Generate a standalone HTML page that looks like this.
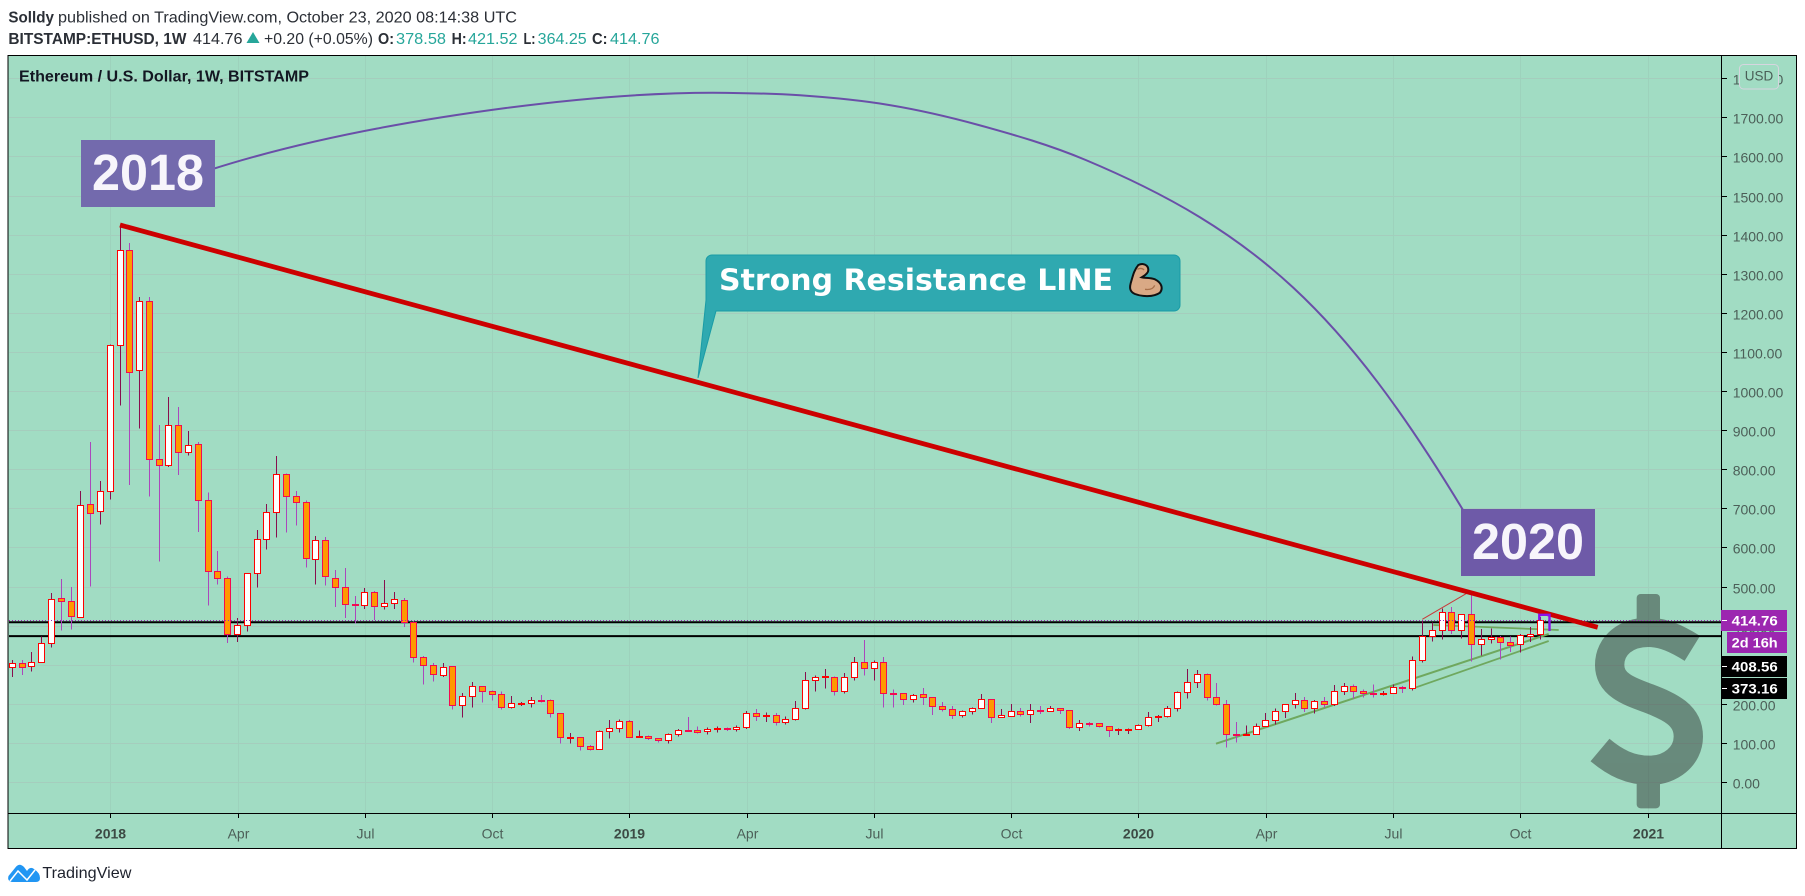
<!DOCTYPE html>
<html lang="en">
<head>
<meta charset="utf-8">
<title>ETHUSD 1W chart</title>
<style>
html,body{margin:0;padding:0;background:#fff;width:1805px;height:896px;overflow:hidden}
svg{display:block;font-family:"Liberation Sans",sans-serif}
</style>
</head>
<body>
<svg id="chart" xmlns="http://www.w3.org/2000/svg" width="1805" height="896" viewBox="0 0 1805 896">
  <g font-size="16" fill="#2b2f36">
    <text x="8.4" y="22.7" font-weight="bold" textLength="45.5" lengthAdjust="spacingAndGlyphs">Solldy</text>
    <text x="58" y="22.7" textLength="459" lengthAdjust="spacingAndGlyphs">published on TradingView.com, October 23, 2020 08:14:38 UTC</text>
    <text x="8.4" y="44" font-weight="bold" textLength="178" lengthAdjust="spacingAndGlyphs">BITSTAMP:ETHUSD, 1W</text>
    <text x="193" y="44" textLength="49.5" lengthAdjust="spacingAndGlyphs">414.76</text>
    <polygon points="253,32 259.5,43 246.5,43" fill="#26a69a"/>
    <text x="264" y="44" textLength="109" lengthAdjust="spacingAndGlyphs">+0.20 (+0.05%)</text>
    <text x="378" y="44" font-weight="bold" textLength="16" lengthAdjust="spacingAndGlyphs">O:</text>
    <text x="396" y="44" fill="#26a69a" textLength="50" lengthAdjust="spacingAndGlyphs">378.58</text>
    <text x="451.6" y="44" font-weight="bold" textLength="15" lengthAdjust="spacingAndGlyphs">H:</text>
    <text x="468" y="44" fill="#26a69a" textLength="49.5" lengthAdjust="spacingAndGlyphs">421.52</text>
    <text x="523.5" y="44" font-weight="bold" textLength="12" lengthAdjust="spacingAndGlyphs">L:</text>
    <text x="537.7" y="44" fill="#26a69a" textLength="49" lengthAdjust="spacingAndGlyphs">364.25</text>
    <text x="592" y="44" font-weight="bold" textLength="15.5" lengthAdjust="spacingAndGlyphs">C:</text>
    <text x="610" y="44" fill="#26a69a" textLength="49.5" lengthAdjust="spacingAndGlyphs">414.76</text>
  </g>

  <rect x="8" y="55" width="1789" height="794" fill="#a1dcc3"/>
  <g id="grid"></g>

  <g opacity="0.43" transform="translate(1500 560) scale(.33333)">
    <rect x="410" y="102" width="70" height="90" rx="12" fill="#1e1e1e"/>
    <rect x="410" y="655" width="70" height="90" rx="12" fill="#1e1e1e"/>
    <path d="M577 265 C530 236 490 217 445 217 C380 217 329 255 329 315 C329 375 390 395 445 415 C510 440 565 465 565 530 C565 590 510 631 450 631 C390 631 345 608 300 570" fill="none" stroke="#1e1e1e" stroke-width="88" stroke-linejoin="round"/>
  </g>

  <g id="levels"></g>

  <g fill="none" stroke="#6fa85e">
    <line x1="1216" y1="743.7" x2="1548.7" y2="634" stroke-width="2"/>
    <line x1="1413.3" y1="688.3" x2="1548.7" y2="641" stroke-width="1.8"/>
    <line x1="1433.3" y1="625" x2="1558.7" y2="630" stroke-width="1.8"/>
  </g>

  <g id="candles" shape-rendering="crispEdges"></g>
  <g id="lastline"></g>

  <line x1="1422.3" y1="619.3" x2="1466.7" y2="593.3" stroke="#c83a3a" stroke-width="1"/>
  <line x1="120" y1="225" x2="1597.7" y2="627.3" stroke="#cc0000" stroke-width="4.8"/>
  <path d="M1539.3 620 V614.8 H1549.5 V631" fill="none" stroke="#8a10e8" stroke-width="2.4"/>

  <path d="M209.6 170 C300 141 400 122 506 108 C575 99 645 92.7 712.8 92.7 C736.3 92.9 770.6 93.25 800 95.3 C829.4 97.35 859.2 100.05 889 105 C918.8 109.95 948.8 116.83 978.6 125 C1014 134.7 1050 145 1085.7 160 C1255.7 231.4 1343 312 1463 510" fill="none" stroke="#6a4fa8" stroke-width="2"/>

  <rect x="81" y="140" width="134" height="67" fill="#736aad"/>
  <text x="148" y="190" font-size="51" font-weight="bold" text-anchor="middle" fill="#f7f5fb" textLength="112" lengthAdjust="spacingAndGlyphs">2018</text>
  <rect x="1461" y="509" width="134" height="67" fill="#6e5aa8"/>
  <text x="1528" y="559" font-size="51" font-weight="bold" text-anchor="middle" fill="#f7f5fb" textLength="112" lengthAdjust="spacingAndGlyphs">2020</text>

  <path d="M712 255 H1174 a6 6 0 0 1 6 6 V305 a6 6 0 0 1 -6 6 H716 L698 378 L706 300 V261 a6 6 0 0 1 6 -6 Z" fill="#2fa9b0" stroke="#1a9ca6" stroke-width="1"/>
  <text x="719" y="290" font-family="'DejaVu Sans',sans-serif" font-size="29" font-weight="bold" fill="#fff" textLength="394" lengthAdjust="spacingAndGlyphs">Strong Resistance LINE</text>
  <g transform="translate(680 240) scale(.33333)">
    <path d="M1375 75 C1390 68 1405 75 1405 90 C1405 100 1392 108 1385 112 C1395 115 1410 112 1425 118 C1445 128 1450 145 1440 158 C1420 172 1385 170 1365 162 C1350 155 1348 145 1352 130 C1358 110 1362 90 1375 75 Z" fill="#d9a985" stroke="#111" stroke-width="6"/>
    <path d="M1395 148 C1410 150 1420 146 1424 136 M1372 88 C1378 84 1388 84 1392 90" fill="none" stroke="#a8704a" stroke-width="4"/>
  </g>

  <text x="19" y="81.7" font-size="15.5" font-weight="bold" fill="#131722" textLength="290" lengthAdjust="spacingAndGlyphs">Ethereum / U.S. Dollar, 1W, BITSTAMP</text>

  <g id="axes"></g>

  <g fill="none" stroke="#000" shape-rendering="crispEdges">
    <rect x="8" y="55.5" width="1788.5" height="793" stroke-width="1.4"/>
    <line x1="1721.5" y1="55" x2="1721.5" y2="849" stroke-width="1"/>
    <line x1="8" y1="813.5" x2="1797" y2="813.5" stroke-width="1"/>
  </g>

  <g font-size="14" font-weight="bold" fill="#fff">
    <rect x="1721" y="610" width="66" height="21" fill="#9c27b0"/>
    <line x1="1722" y1="620.5" x2="1727" y2="620.5" stroke="#fff"/>
    <text x="1731.7" y="625.5" textLength="46" lengthAdjust="spacingAndGlyphs">414.76</text>
    <rect x="1727" y="632" width="60" height="21" fill="#9c27b0"/>
    <text x="1731.7" y="647.5" textLength="46" lengthAdjust="spacingAndGlyphs">2d 16h</text>
    <rect x="1721" y="656" width="66" height="21" fill="#000"/>
    <line x1="1722" y1="666.5" x2="1727" y2="666.5" stroke="#fff"/>
    <text x="1731.7" y="671.5" textLength="46" lengthAdjust="spacingAndGlyphs">408.56</text>
    <rect x="1721" y="678" width="66" height="21" fill="#000"/>
    <line x1="1722" y1="688.5" x2="1727" y2="688.5" stroke="#fff"/>
    <text x="1731.7" y="693.5" textLength="46" lengthAdjust="spacingAndGlyphs">373.16</text>
  </g>

  <rect x="1739.5" y="64.5" width="39" height="24.5" rx="4" fill="#a1dcc3" stroke="#d6d5df" stroke-width="1"/>
  <text x="1759" y="80.5" font-size="13.5" text-anchor="middle" fill="#4a5f57">USD</text>

  <g>
    <path d="M8.5 876 L15 868 Q19 862 24 867 L27 871 Q30 866 34 869 Q40 873 40 878 Q40 882 36 882 L12 882 Q7 881 8.5 876 Z" fill="#2196f3"/>
    <path d="M10 881 L18 871 L27 880 L35 870" fill="none" stroke="#fff" stroke-width="1.5"/>
    <text x="42.4" y="878" font-size="16" fill="#1e222d" textLength="89" lengthAdjust="spacingAndGlyphs">TradingView</text>
  </g>
</svg>
<script>
// Weekly OHLC, BITSTAMP:ETHUSD (USD)
const opens = [293,304,296,306,355,470,462,421,710,692,743,1117,1360,1053,1229,825,810,912,843,864,720,539,523,378,401,534,621,690,787,731,715,570,618,523,498,454,452,485,449,457,465,408,319,298,273,
296,196,219,245,232,224,191,200,201,209,209,176,113,114,91,84,130,137,155,114,117,112,107,124,132,132,130,135,137,135,140,176,168,171,153,160,188,260,268,268,232,268,306,291,306,227,
227,211,224,217,194,186,171,181,188,211,167,170,181,175,183,181,188,183,140,150,150,142,132,134,135,147,165,168,188,229,257,275,217,199,123,122,124,142,158,181,199,
209,188,206,199,232,245,232,227,224,227,242,240,311,373,390,434,390,429,352,367,370,357,352,373,378.58];
const highs = [312,312,333,372,483,519,499,744,870,770,1119,1425,1379,1240,1240,913,985,959,898,870,741,591,526,419,534,644,711,834,789,744,720,629,627,542,547,476,496,488,517,486,471,411,322,304,304,
296,227,256,245,234,232,220,204,217,223,211,176,125,114,94,132,159,160,158,132,119,112,124,135,166,142,140,142,140,145,181,187,178,176,168,207,281,273,289,270,279,320,363,311,320,237,
227,225,240,217,205,194,183,191,225,211,187,200,189,200,194,194,188,183,158,153,150,142,137,137,147,179,171,194,232,289,286,278,253,210,153,145,150,177,188,199,227,
217,210,217,248,253,250,237,250,233,250,246,321,414,408,444,447,429,489,391,393,373,372,378,396,421.52];
const lows = [269,274,282,306,344,387,390,421,500,658,722,963,760,904,730,564,806,785,835,640,451,505,356,358,385,497,594,625,638,656,548,505,502,448,420,406,443,414,441,443,397,305,249,257,269,
185,165,190,203,208,185,188,195,190,203,165,98,98,80,80,84,111,126,114,113,108,101,98,116,128,124,121,126,130,129,136,156,154,144,147,157,185,231,239,221,226,259,272,259,190,190,
197,203,197,171,180,161,165,172,187,151,165,167,167,151,174,179,174,136,131,142,139,115,120,123,134,142,154,165,180,213,241,208,196,88,101,119,123,142,147,164,188,
179,175,190,195,223,214,216,216,221,225,228,234,305,359,364,379,367,308,323,354,313,332,331,358,364.25];
const closes = [304,293,306,355,467,462,424,708,687,743,1117,1360,1048,1229,825,810,912,843,861,720,539,521,378,401,534,621,690,787,731,715,572,618,526,498,454,452,485,449,457,467,408,319,298,275,293,
196,219,245,232,224,191,201,201,209,208,176,114,114,91,84,130,137,155,114,117,112,107,124,132,131,129,135,137,135,140,176,168,171,153,160,188,260,268,270,232,268,306,291,306,227,224,
211,222,217,194,186,171,181,188,211,167,171,181,175,183,181,188,183,140,150,149,142,132,135,135,145,165,168,188,229,257,275,217,199,124,120,124,142,158,181,199,209,
188,206,199,232,245,232,227,224,227,242,240,311,373,390,434,390,429,352,365,370,357,351,375,378,414.76];

const priceTicks = [0,100,200,300,400,500,600,700,800,900,1000,1100,1200,1300,1400,1500,1600,1700,1800];
const timeLabels = ["2018","Apr","Jul","Oct","2019","Apr","Jul","Oct","2020","Apr","Jul","Oct","2021"];
const timeWeeks = [10,23,36,49,63,75,88,102,115,128,141,154,167];
const levelPrices = [408.56,373.16];
const lastPrice = 414.76;

const NS = 'http://www.w3.org/2000/svg';
function xScale(week){ return 12.3 + week * 9.793; }
function yScale(price){ return 782 - 0.391 * price; }
function make(tag, parent){
  const el = document.createElementNS(NS, tag);
  parent.appendChild(el);
  return el;
}

const gridG = document.getElementById('grid');
const axesG = document.getElementById('axes');
const levelsG = document.getElementById('levels');
const lastG = document.getElementById('lastline');
const candlesG = document.getElementById('candles');

priceTicks.forEach(function(p){
  const y = Math.round(yScale(p)) + 0.5;
  const g = make('line', gridG);
  
  
  g.setAttribute('x1', 9); g.setAttribute('x2', 1721);
  g.setAttribute('y1', y); g.setAttribute('y2', y);
  g.setAttribute('stroke', '#a5cdbd');
  g.setAttribute('shape-rendering', 'crispEdges');
  const t = make('line', axesG);
  
  
  t.setAttribute('x1', 1721); t.setAttribute('x2', 1727);
  t.setAttribute('y1', y); t.setAttribute('y2', y);
  t.setAttribute('stroke', '#000');
  t.setAttribute('shape-rendering', 'crispEdges');
  const l = make('text', axesG);
  
  
  l.setAttribute('x', 1732.7);
  l.setAttribute('y', y + 6.2);
  l.setAttribute('font-size', '14');
  l.setAttribute('fill', '#4c5f58');
  l.textContent = p.toFixed(2);
});

timeLabels.forEach(function(lab, i){
  const x = Math.round(xScale(timeWeeks[i])) + 0.5;
  const g = make('line', gridG);
  
  
  g.setAttribute('x1', x); g.setAttribute('x2', x);
  g.setAttribute('y1', 56); g.setAttribute('y2', 813);
  g.setAttribute('stroke', '#9dd2bc');
  g.setAttribute('shape-rendering', 'crispEdges');
  const t = make('line', axesG);
  
  
  t.setAttribute('x1', x); t.setAttribute('x2', x);
  t.setAttribute('y1', 813); t.setAttribute('y2', 818);
  t.setAttribute('stroke', '#000');
  t.setAttribute('shape-rendering', 'crispEdges');
  const l = make('text', axesG);
  const isYear = /^\d+$/.test(lab);
  
  
  l.setAttribute('x', x);
  l.setAttribute('y', 838.3);
  l.setAttribute('font-size', '14');
  l.setAttribute('text-anchor', 'middle');
  l.setAttribute('fill', isYear ? '#3c4a44' : '#4c5f58');
  if (isYear) l.setAttribute('font-weight', 'bold');
  l.textContent = lab;
});

levelPrices.forEach(function(p){
  const y = yScale(p);
  const h = make('line', levelsG);
  
  
  h.setAttribute('x1', 9); h.setAttribute('x2', 1721);
  h.setAttribute('y1', y); h.setAttribute('y2', y);
  h.setAttribute('stroke', '#000');
  h.setAttribute('stroke-width', '2');
});

const lastLine = make('line', lastG);


lastLine.setAttribute('x1', 9); lastLine.setAttribute('x2', 1721);
lastLine.setAttribute('y1', Math.round(yScale(lastPrice)) + 0.5);
lastLine.setAttribute('y2', Math.round(yScale(lastPrice)) + 0.5);
lastLine.setAttribute('stroke', '#9c27b0');
lastLine.setAttribute('stroke-dasharray', '1 2');
lastLine.setAttribute('shape-rendering', 'crispEdges');

opens.forEach(function(o, i){
  const c = closes[i];
  const up = c >= o;
  const x = Math.floor(xScale(i));
  const wick = make('line', candlesG);
  
  
  wick.setAttribute('x1', x + 0.5); wick.setAttribute('x2', x + 0.5);
  wick.setAttribute('y1', yScale(highs[i])); wick.setAttribute('y2', yScale(lows[i]));
  wick.setAttribute('stroke', up ? '#880e4f' : '#ab47bc');
  const top = Math.round(yScale(Math.max(o, c))) + 0.5;
  const bot = Math.round(yScale(Math.min(o, c))) + 0.5;
  const body = make('rect', candlesG);
  
  
  body.setAttribute('x', x - 2.5);
  body.setAttribute('y', top);
  body.setAttribute('width', 6);
  body.setAttribute('height', Math.max(bot - top, 1));
  body.setAttribute('fill', up ? '#ffffff' : '#ff9800');
  body.setAttribute('stroke', up ? '#ff0000' : '#f50a50');
});
</script>
</body>
</html>
